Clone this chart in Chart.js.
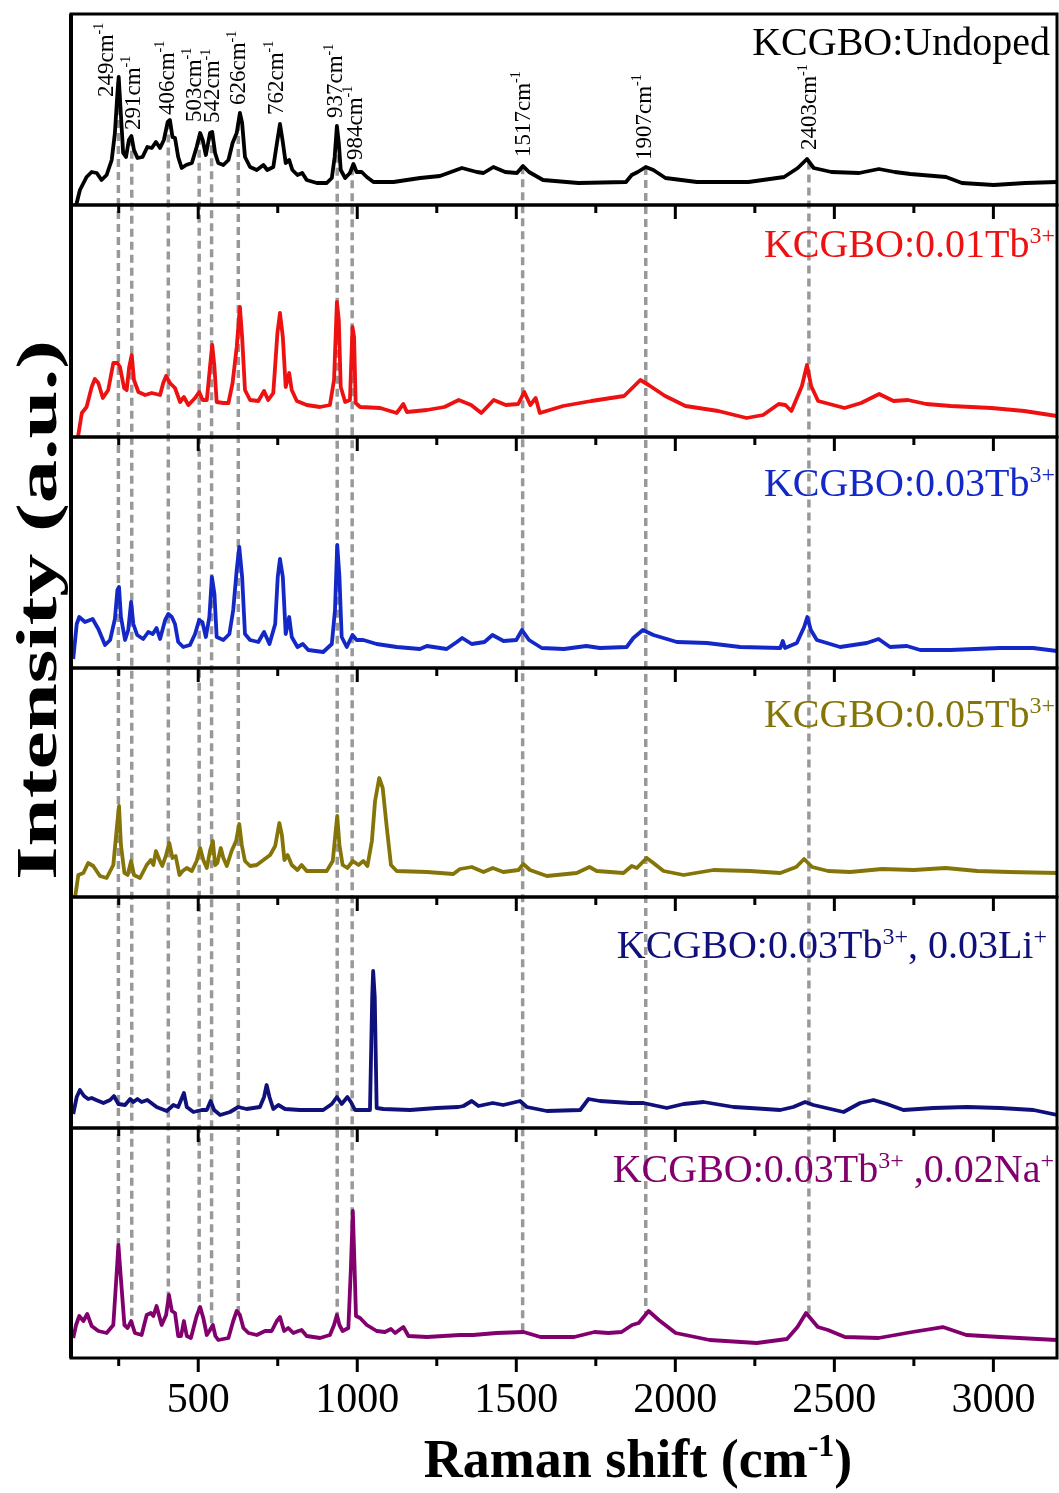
<!DOCTYPE html>
<html>
<head>
<meta charset="utf-8">
<script src="https://cdn.jsdelivr.net/npm/chart.js@4.4.0/dist/chart.umd.min.js"></script>
<style>
  html, body { margin: 0; background: #fff; }
  #wrap { position: relative; width: 1059px; height: 1493px; }
</style>
</head>
<body>
<div id="wrap"><canvas id="chart"></canvas></div>
<script>
'use strict'

// Raman shift ticks (cm-1)
const xTicks = [500, 1000, 1500, 2000, 2500, 3000]
const xMinorTicks = [250, 750, 1250, 1750, 2250, 2750]

// spectra: [Raman shift, intensity a.u.]
const undoped = [[115,0],[118,2],[128,15],[149,28],[165,33],[181,32],[196,25],[212,30],[228,45],[238,72],[246,112],[250,128],[256,95],[264,52],[273,48],[282,65],[290,69],[298,55],[309,47],[325,48],[340,58],[354,57],[367,63],[380,57],[392,65],[404,83],[411,85],[419,68],[427,67],[437,48],[448,37],[462,40],[480,42],[495,58],[506,72],[514,65],[524,50],[537,72],[544,73],[553,52],[563,42],[579,40],[595,45],[608,62],[621,72],[631,92],[638,82],[647,48],[663,38],[684,35],[705,40],[717,35],[736,38],[749,65],[757,81],[765,65],[775,42],[786,45],[796,35],[812,30],[827,32],[841,25],[873,22],[904,22],[920,27],[929,48],[936,79],[942,62],[948,35],[962,27],[977,32],[988,41],[998,33],[1014,33],[1030,28],[1051,23],[1114,23],[1198,27],[1260,29],[1329,37],[1376,33],[1397,32],[1428,38],[1465,33],[1502,32],[1521,39],[1540,33],[1584,25],[1695,22],[1845,23],[1863,30],[1882,33],[1907,38],[1931,35],[1969,27],[2068,23],[2230,23],[2342,28],[2385,37],[2414,46],[2435,37],[2491,33],[2578,32],[2640,36],[2690,33],[2739,31],[2851,28],[2901,22],[3001,20],[3100,22],[3200,23]]

const tb001 = [[122,0],[134,24],[149,30],[165,50],[175,58],[186,54],[200,39],[217,47],[233,74],[246,74],[254,70],[267,49],[275,47],[283,70],[291,82],[298,57],[312,45],[333,42],[354,44],[380,42],[390,54],[399,61],[411,54],[427,49],[443,35],[455,40],[469,32],[490,39],[503,45],[514,37],[527,37],[537,70],[544,92],[551,70],[558,35],[579,34],[595,34],[608,54],[621,90],[631,130],[638,100],[647,47],[663,37],[689,36],[707,46],[720,37],[736,44],[749,104],[757,124],[766,100],[775,50],[786,64],[794,47],[810,36],[841,32],[883,30],[914,32],[927,57],[936,135],[942,117],[948,50],[962,35],[977,37],[985,110],[990,100],[995,34],[1009,30],[1072,29],[1124,24],[1145,33],[1156,25],[1219,27],[1274,30],[1319,37],[1358,32],[1390,24],[1429,37],[1467,32],[1506,33],[1525,45],[1544,32],[1561,39],[1574,24],[1647,31],[1736,36],[1839,41],[1890,57],[1916,52],[1968,41],[2032,31],[2135,26],[2224,19],[2276,22],[2325,33],[2346,32],[2365,26],[2398,51],[2414,72],[2427,51],[2449,36],[2532,29],[2584,34],[2641,43],[2686,36],[2731,37],[2789,33],[2866,31],[2994,29],[3097,26],[3200,21]]

const tb003 = [[107,9],[118,44],[126,51],[144,46],[168,49],[186,39],[207,23],[223,28],[238,49],[246,78],[251,81],[257,51],[270,28],[280,38],[289,66],[296,44],[308,33],[327,29],[343,36],[357,34],[369,40],[380,29],[396,48],[406,54],[417,51],[427,44],[437,26],[453,21],[474,23],[490,34],[503,48],[513,46],[524,31],[535,51],[543,91],[551,74],[558,31],[579,28],[598,34],[610,58],[621,98],[629,121],[638,91],[647,34],[663,28],[689,26],[707,36],[724,24],[742,44],[750,91],[757,109],[766,91],[775,34],[786,51],[794,31],[812,21],[829,24],[846,18],[893,16],[920,24],[930,58],[937,123],[944,91],[951,31],[967,21],[985,33],[998,28],[1019,28],[1061,24],[1124,21],[1197,19],[1219,22],[1281,19],[1313,26],[1330,30],[1360,24],[1400,26],[1425,33],[1460,27],[1500,28],[1518,38],[1540,28],[1580,20],[1650,19],[1720,22],[1763,20],[1847,21],[1868,30],[1898,38],[1931,33],[2005,26],[2099,25],[2204,21],[2330,20],[2338,27],[2345,20],[2382,25],[2405,41],[2415,51],[2426,38],[2445,28],[2518,21],[2602,25],[2639,29],[2675,21],[2728,22],[2770,18],[2864,18],[3021,20],[3125,20],[3200,17]]

const tb005 = [[113,0],[123,22],[139,24],[154,34],[170,31],[191,21],[212,19],[233,32],[244,69],[251,91],[257,52],[268,24],[278,22],[289,36],[298,22],[317,19],[338,32],[351,37],[359,32],[367,46],[378,37],[387,31],[399,42],[409,54],[419,39],[429,41],[441,22],[451,26],[464,29],[480,26],[495,36],[506,49],[516,37],[527,29],[537,46],[546,56],[553,32],[560,34],[571,49],[579,39],[590,31],[605,46],[619,56],[629,73],[637,52],[647,36],[663,31],[684,32],[705,37],[726,42],[742,51],[755,74],[763,62],[771,37],[781,42],[794,32],[812,27],[825,32],[841,26],[873,26],[904,26],[923,36],[931,62],[937,81],[944,52],[954,32],[969,29],[986,36],[1004,32],[1019,36],[1032,31],[1046,56],[1056,96],[1069,119],[1080,109],[1093,69],[1106,32],[1124,26],[1219,25],[1302,23],[1323,28],[1360,30],[1397,25],[1426,29],[1459,25],[1507,27],[1522,33],[1543,27],[1596,21],[1690,24],[1730,30],[1753,26],[1837,24],[1863,31],[1879,29],[1910,39],[1931,34],[1963,26],[2026,22],[2120,27],[2235,26],[2330,24],[2380,30],[2405,38],[2430,30],[2480,26],[2550,25],[2650,28],[2750,27],[2850,29],[2950,26],[3050,25],[3200,24]]

const tbLi = [[107,14],[118,31],[128,38],[141,32],[154,29],[165,30],[179,28],[202,25],[223,28],[235,32],[249,24],[270,23],[286,29],[296,26],[309,29],[322,26],[340,28],[369,21],[401,17],[422,23],[437,21],[455,35],[464,21],[485,16],[511,18],[527,18],[539,27],[550,18],[569,13],[600,16],[626,21],[652,19],[694,21],[707,31],[715,43],[724,31],[736,19],[752,23],[773,19],[820,18],[893,18],[920,24],[936,31],[951,24],[969,31],[980,26],[993,18],[1040,18],[1047,131],[1050,157],[1055,131],[1061,20],[1082,19],[1166,18],[1250,20],[1318,21],[1334,22],[1360,27],[1381,22],[1426,25],[1459,23],[1512,27],[1533,21],[1596,17],[1701,18],[1727,29],[1763,27],[1858,25],[1900,25],[1973,20],[2026,24],[2089,26],[2183,21],[2235,20],[2330,18],[2371,21],[2408,26],[2434,23],[2529,16],[2581,25],[2623,28],[2665,24],[2717,18],[2812,20],[2917,21],[3021,20],[3126,18],[3200,13]]

const tbNa = [[107,20],[116,33],[126,42],[139,37],[151,44],[165,32],[186,27],[212,25],[233,33],[244,87],[249,113],[256,83],[268,33],[278,30],[289,37],[301,25],[322,23],[338,43],[351,45],[359,42],[369,52],[385,33],[399,43],[408,63],[417,47],[427,45],[437,22],[446,22],[455,37],[464,22],[477,20],[495,42],[506,51],[516,40],[527,23],[537,28],[546,33],[554,22],[563,18],[595,20],[610,37],[621,47],[631,43],[642,30],[658,25],[684,23],[710,27],[731,27],[747,37],[757,41],[770,27],[783,30],[799,25],[815,27],[825,28],[841,22],[883,20],[914,23],[927,33],[936,43],[944,33],[954,27],[972,30],[980,90],[986,147],[991,97],[996,42],[1009,40],[1030,33],[1061,27],[1087,26],[1106,29],[1119,25],[1145,31],[1161,22],[1219,21],[1323,23],[1364,23],[1438,25],[1523,26],[1576,21],[1682,21],[1746,26],[1789,25],[1831,26],[1864,33],[1885,35],[1916,47],[1948,38],[2001,25],[2108,18],[2256,15],[2351,19],[2384,31],[2411,45],[2448,31],[2480,28],[2533,21],[2639,20],[2745,26],[2841,31],[2915,23],[3021,21],[3200,18]]

// top of each panel's intensity axis
const panelMax = [191, 232, 231, 229, 231, 230]

// peak annotations in the top panel
const peakLabels = ['249', '291', '406', '503', '542', '626', '762', '937', '984', '1517', '1907', '2403']
const peakLabelX = [207, 292, 399, 484, 543, 625, 742, 930, 990, 1518, 1899, 2418]
const peakLabelY = [108, 75, 90, 83, 82, 100, 90, 87, 45, 48, 45, 55]
const guideLines = [249, 291, 406, 503, 542, 626, 937, 984, 1520, 1907, 2420]

const sampleNames = [
  [['KCGBO:Undoped', 0]],
  [['KCGBO:0.01Tb', 0], ['3+', 1]],
  [['KCGBO:0.03Tb', 0], ['3+', 1]],
  [['KCGBO:0.05Tb', 0], ['3+', 1]],
  [['KCGBO:0.03Tb', 0], ['3+', 1], [', 0.03Li', 0], ['+', 1]],
  [['KCGBO:0.03Tb', 0], ['3+', 1], [' ,0.02Na', 0], ['+', 1]]
]

const series = [undoped, tb001, tb003, tb005, tbLi, tbNa]
const colors = ['#000000', '#ee1111', '#1428c8', '#857508', '#10107a', '#82006e']
const axisIds = ['y0', 'y1', 'y2', 'y3', 'y4', 'y5']
// name placement: [right edge px, baseline below panel top px]
const namePlace = [[1050, 41], [1055, 52], [1055, 59], [1055, 59], [1047, 61], [1054, 54]]

const FONT = '"Liberation Serif", "Times New Roman", serif'

function valueAt(arr, x) {
  for (let i = 1; i < arr.length; i++) {
    if (arr[i][0] >= x) {
      const [x0, y0] = arr[i - 1], [x1, y1] = arr[i]
      return y0 + (y1 - y0) * (x - x0) / (x1 - x0)
    }
  }
  return arr[arr.length - 1][1]
}

function drawRich(ctx, segs, x, y, size, weight, align, rise) {
  const supSize = Math.round(size * 0.6)
  const fontFor = sup => `${weight} ${sup ? supSize : size}px ${FONT}`
  let w = 0
  segs.forEach(([t, sup]) => { ctx.font = fontFor(sup); w += ctx.measureText(t).width })
  let cx = align === 'right' ? x - w : align === 'center' ? x - w / 2 : x
  ctx.textAlign = 'left'
  ctx.textBaseline = 'alphabetic'
  segs.forEach(([t, sup]) => {
    ctx.font = fontFor(sup)
    ctx.fillText(t, cx, sup ? y - size * rise : y)
    cx += ctx.measureText(t).width
  })
  return w
}

const decor = {
  id: 'decor',
  beforeDatasetsDraw(chart) {
    const ctx = chart.ctx, xs = chart.scales.x
    const topS = chart.scales[axisIds[0]], botS = chart.scales[axisIds[5]]
    ctx.save()
    ctx.strokeStyle = '#999999'
    ctx.lineWidth = 3.5
    ctx.setLineDash([8, 5])
    guideLines.forEach(p => {
      const px = xs.getPixelForValue(p)
      ctx.beginPath()
      ctx.moveTo(px, topS.getPixelForValue(valueAt(series[0], p)))
      ctx.lineTo(px, botS.getPixelForValue(valueAt(series[5], p)))
      ctx.stroke()
    })
    ctx.restore()
  },
  afterDraw(chart) {
    const ctx = chart.ctx, xs = chart.scales.x
    const {left, right} = chart.chartArea
    ctx.save()
    ctx.strokeStyle = '#000'
    ctx.lineWidth = 3
    axisIds.forEach((id, i) => {
      const s = chart.scales[id]
      ctx.strokeRect(left, s.top, right - left, s.bottom - s.top)
      // tick marks hanging under each panel's upper edge
      const edges = i > 0 ? [s.top] : []
      if (i === 5) edges.push(s.bottom)
      edges.forEach(y => {
        ctx.beginPath()
        xTicks.forEach(v => { const px = xs.getPixelForValue(v); ctx.moveTo(px, y); ctx.lineTo(px, y + 14) })
        xMinorTicks.forEach(v => { const px = xs.getPixelForValue(v); ctx.moveTo(px, y); ctx.lineTo(px, y + 8) })
        ctx.stroke()
      })
      ctx.fillStyle = colors[i]
      drawRich(ctx, sampleNames[i], namePlace[i][0], s.top + namePlace[i][1], 40, 'normal', 'right', 0.34)
    })
    // thicker left spine
    ctx.lineWidth = 4
    ctx.beginPath()
    ctx.moveTo(left, chart.scales[axisIds[0]].top)
    ctx.lineTo(left, chart.scales[axisIds[5]].bottom)
    ctx.stroke()

    // rotated peak positions
    const topS = chart.scales[axisIds[0]]
    ctx.fillStyle = '#000'
    peakLabels.forEach((t, i) => {
      const px = xs.getPixelForValue(peakLabelX[i])
      const py = topS.getPixelForValue(peakLabelY[i])
      ctx.save()
      ctx.translate(px + 7.5, py)
      ctx.rotate(-Math.PI / 2)
      drawRich(ctx, [[t + 'cm', 0], ['-1', 1]], 0, 0, 23, 'normal', 'left', 0.4)
      ctx.restore()
    })

    // axis titles
    ctx.fillStyle = '#000'
    drawRich(ctx, [['Raman shift (cm', 0], ['-1', 1], [')', 0]], 638, 1477, 54, 'bold', 'center', 0.38)
    ctx.save()
    ctx.translate(56, 610)
    ctx.rotate(-Math.PI / 2)
    ctx.font = `bold 58px ${FONT}`
    const w = ctx.measureText('Intensity (a.u.)').width
    ctx.scale(540 / w, 1)
    drawRich(ctx, [['Intensity (a.u.)', 0]], 0, 0, 58, 'bold', 'center', 0)
    ctx.restore()
    ctx.restore()
  }
}

const scales = {
  x: {
    type: 'linear',
    min: 100,
    max: 3200,
    afterBuildTicks: s => { s.ticks = xTicks.map(v => ({value: v})) },
    afterFit: s => { s.height = 135 },
    grid: {display: false, drawTicks: true, tickLength: 14},
    border: {display: false},
    ticks: {
      font: {family: FONT, size: 42},
      color: '#000',
      padding: 4,
      maxRotation: 0,
      autoSkip: false,
      callback: v => String(v)
    }
  }
}
// bottom panel first so the top panel ends up on top of the stack
for (let i = 5; i >= 0; i--) {
  scales[axisIds[i]] = {
    type: 'linear',
    position: 'left',
    stack: 'panels',
    stackWeight: panelMax[i],
    min: 0,
    max: panelMax[i],
    ticks: {display: false},
    grid: {display: false, drawTicks: false},
    border: {display: false}
  }
}

const datasets = series.map((s, i) => ({
  label: 'p' + i,
  data: s.map(([x, y]) => ({x, y})),
  yAxisID: axisIds[i],
  xAxisID: 'x',
  borderColor: colors[i],
  borderWidth: 3.8,
  borderJoinStyle: 'round',
  pointRadius: 0,
  showLine: true,
  tension: 0,
  fill: false
}))

const chart = new Chart(document.getElementById('chart'), {
  type: 'scatter',
  data: {datasets},
  options: {
    responsive: true,
    maintainAspectRatio: false,
    animation: false,
    events: [],
    layout: {padding: {left: 71, right: 2, top: 14, bottom: 0}},
    plugins: {legend: {display: false}, tooltip: {enabled: false}},
    scales
  },
  plugins: [decor]
})
</script>
</body>
</html>
